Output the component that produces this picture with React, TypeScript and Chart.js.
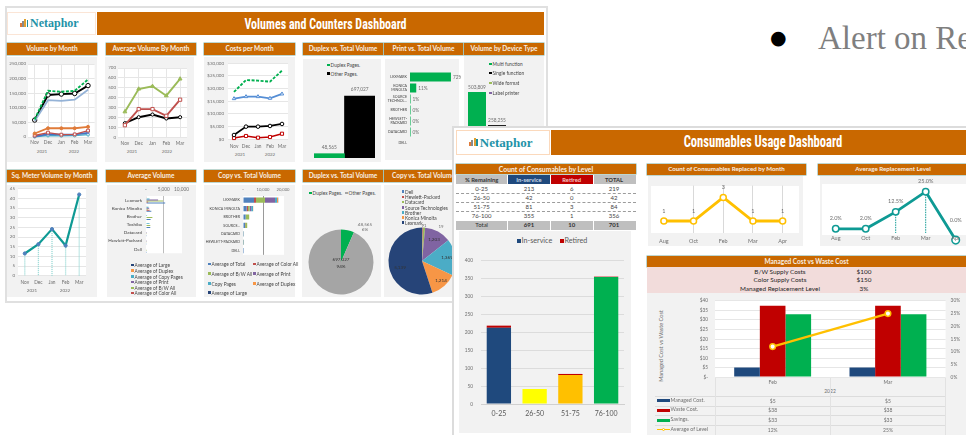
import React, { useEffect, useRef } from "react";
import { Chart, registerables } from "chart.js";
Chart.register(...registerables);

const months = ["Nov", "Dec", "Jan", "Feb", "Mar"];
const volGreen = [60000, 158000, 155000, 158000, 197000];
const volBlack = [58000, 144000, 147000, 149000, 176000];
const volLight = [55000, 126000, 124000, 128000, 162000];
const volOrange = [12000, 30000, 30000, 30000, 35000];
const volRed = [5000, 15000, 8000, 9000, 22000];
const volBlue = [2000, 10000, 8000, 9000, 14000];
const volTeal = [1000, 5000, 4000, 5000, 8000];
const avgGreen = [258, 488, 515, 420, 590];
const avgRed = [122, 285, 285, 217, 380];
const avgBlack = [142, 203, 230, 190, 203];
const costGreen = [18700, 23400, 23150, 22760, 27100];
const costBlue = [16050, 16840, 16840, 16180, 17900];
const costBlack = [1700, 5000, 5000, 5260, 6050];
const costRed = [500, 1300, 650, 900, 2200];
const duplexLabels = ["Duplex Pages.", "Other Pages."];
const duplexValues = [48565, 697027];
const duplexTexts = ["48,565", "697,027"];
const printBrands = [["LEXMARK"], ["KONICA", "MINOLTA"], ["SOURCE", "TECHNOL..."], ["BROTHER"], ["HEWLETT-", "PACKARD"], ["DATACARD"], ["DELL"]];
const printShare = [72, 11, 1, 1, 1, 1, 0];
const printTexts = ["72%", "11%", "1%", "0%", "0%", "0%", ""];
const deviceTypes = ["Multi function", "Single function", "Wide format", "Label printer"];
const deviceValues = [503809, 258255, 5000, 200];
const deviceTexts = ["503,809", "258,255", "", ""];
const sqMeter = [11.5, 16.3, 24.1, 15.6, 42];
const brands = ["Lexmark", "Konica Minolta", "Brother", "Toshiba", "Datacard", "Hewlett-Packard", "Dell"];
const brandsUpper = ["LEXMARK", "KONICA MINOLTA", "BROTHER", "SOURCE...", "DATACARD", "HEWLETT-PACKARD", "DELL"];
const avLarge = [100, 0, 0, 0, 0, 0, 0];
const avDuplex = [200, 100, 0, 0, 0, 0, 0];
const avCopy = [1000, 700, 300, 1000, 0, 0, 0];
const avPrint = [3400, 900, 0, 0, 10, 20, 0];
const avBW = [4800, 500, 1800, 1200, 50, 60, 10];
const avColor = [600, 1000, 0, 0, 0, 0, 0];
const avTotal = [5400, 1500, 1300, 1200, 50, 60, 10];
const cvTotal = [5500, 1800, 1300, 1000, 50, 60, 10];
const cvColor = [1000, 700, 0, 100, 0, 0, 0];
const cvBW = [4500, 800, 1800, 1000, 100, 200, 10];
const cvPrint = [5000, 800, 0, 0, 0, 0, 0];
const cvCopy = [1000, 900, 0, 0, 0, 0, 0];
const cvDuplex = [500, 100, 0, 0, 0, 0, 0];
const cvLarge = [100, 0, 0, 0, 0, 0, 0];
const pieBrands = ["Dell", "Hewlett-Packard", "Datacard", "Source Technologies", "Brother", "Konica Minolta", "Lexmark"];
const pieValues = [19, 30, 91, 1203, 1639, 1214, 5139];
const levelRanges = ["0-25", "26-50", "51-75", "76-100"];
const levelInService = [213, 42, 81, 355];
const levelRetired = [6, 0, 3, 1];
const levelTotal = [219, 42, 84, 356];
const levelTotals = ["691", "10", "701"];
const replMonths = ["Aug", "Oct", "Feb", "Mar", "Apr"];
const replCount = [1, 1, 3, 1, 1];
const replLevel = [2, 2, 12.5, 25, -5];
const replLevelTexts = ["2.0%", "2.0%", "12.5%", "25.0%", "0.0%"];
const costMonths = ["Feb", "Mar"];
const managedCost = [5, 5];
const wasteCost = [37.5, 37.5];
const savings = [33, 33];
const avgLevel = [12, 25];
const supplyRows = [["B/W Supply Costs", "$100"], ["Color Supply Costs", "$150"], ["Managed Replacement Level", "3%"]];
const costRows = [["Managed Cost.", "$5", "$5"], ["Waste Cost.", "$38", "$38"], ["Savings.", "$33", "$33"], ["Average of Level", "12%", "25%"]];

const F = "Lato, 'Open Sans', sans-serif";
const ORANGE = "#C96800";
const PANEL = "#F2F2F2";
const TICK = "#6f6f6f";
const GRID = "#e6e6e6";
const C = { large: "#264478", duplex: "#F79646", copy: "#4BACC6", print: "#8064A2", bw: "#9BBB59", color: "#C0504D", total: "#4F81BD" };

type R = { x: number; y: number; w: number; h: number };

function deco(o: any = {}) {
  return {
    id: "deco",
    beforeDraw(ch: any) {
      if (!o.bg) return;
      const a = ch.chartArea;
      ch.ctx.save();
      ch.ctx.fillStyle = o.bg;
      ch.ctx.fillRect(a.left, a.top, a.right - a.left, a.bottom - a.top);
      ch.ctx.restore();
    },
    beforeDatasetsDraw(ch: any) {
      if (!o.drops) return;
      const g = ch.ctx;
      const d = o.drops;
      const end = d.to !== undefined ? ch.scales.y.getPixelForValue(d.to) : ch.chartArea.bottom;
      g.save();
      g.strokeStyle = d.color;
      g.lineWidth = d.w;
      g.setLineDash(d.dash);
      ch.getDatasetMeta(d.ds).data.forEach((p: any, i: number) => {
        if (d.idx && !d.idx.includes(i)) return;
        g.beginPath();
        g.moveTo(p.x, p.y);
        g.lineTo(p.x, end);
        g.stroke();
      });
      g.restore();
    },
    afterDatasetsDraw(ch: any) {
      (o.labels || []).forEach((l: any) => {
        const g = ch.ctx;
        g.save();
        g.font = `${l.size || 5}px ${F}`;
        g.fillStyle = l.color || TICK;
        g.textAlign = l.align || "center";
        g.textBaseline = "middle";
        ch.getDatasetMeta(l.ds).data.forEach((p: any, i: number) => {
          const t = l.index !== undefined ? (i === 0 ? l.texts[l.index] : "") : l.texts[i];
          const dy = Array.isArray(l.dy) ? l.dy[i] : l.dy || 0;
          const y = l.fromBottom !== undefined ? ch.chartArea.bottom + l.fromBottom : p.y + dy;
          if (t) g.fillText(t, p.x + (l.dx || 0), y);
        });
        g.restore();
      });
    },
  };
}

function build(c: R, p: R, type: string, labels: any, datasets: any[], scales: any, extra: any = {}, dec: any = {}) {
  const left = p.x - c.x, top = p.y - c.y;
  const right = c.x + c.w - p.x - p.w, bottom = c.y + c.h - p.y - p.h;
  const topX = scales.x.position === "top";
  const hasRight = !!scales.y1;
  const s: any = {};
  Object.keys(scales).forEach((k) => {
    const v = scales[k];
    s[k] = {
      ...v,
      afterFit(sc: any) {
        if (k === "x") sc.height = topX ? top : bottom;
        else if (k === "y1") sc.width = right;
        else sc.width = left;
      },
    };
  });
  return {
    type,
    data: { labels, datasets },
    plugins: [deco(dec)],
    options: {
      animation: false,
      responsive: false,
      maintainAspectRatio: false,
      layout: { padding: { top: topX ? 0 : top, right: hasRight ? 0 : right, bottom: topX ? bottom : 0, left: 0 } },
      plugins: { legend: { display: false }, tooltip: { enabled: false } },
      scales: s,
      ...extra,
    },
  } as any;
}

const tk = (size: number, o: any = {}) => ({ font: { family: F, size }, color: TICK, autoSkip: false, maxRotation: 0, minRotation: 0, padding: 2, ...o });
const noBorder = { display: false };
const xCat = (size = 4.8, o: any = {}, grid: any = { display: false }) => ({ type: "category", offset: true, grid: { ...grid, drawTicks: false }, border: noBorder, ticks: tk(size, { padding: 3, ...o }) });
const yVal = (min: number, max: number, step: number, cb: any, size = 4.5, o: any = {}) => ({ type: "linear", min, max, grid: { color: GRID, drawTicks: false }, border: noBorder, ticks: tk(size, { stepSize: step, callback: cb, padding: 2, ...o }) });
const hideX = { type: "category", offset: true, grid: { display: false, drawTicks: false }, border: noBorder, ticks: { display: false } };
const hideY = (min: number, max: number) => ({ type: "linear", min, max, grid: { display: false, drawTicks: false }, border: noBorder, ticks: { display: false } });
const ln = (data: number[], color: string, w: number, o: any = {}) => ({ data, borderColor: color, borderWidth: w, tension: 0, clip: false, pointRadius: 0, pointBorderColor: color, pointBackgroundColor: "#fff", pointBorderWidth: 1, ...o });
const comma = (v: number) => Number(v).toLocaleString("en-US");

function Plot({ r, make }: { r: R; make: () => any }) {
  const ref = useRef<HTMLCanvasElement>(null);
  useEffect(() => {
    const ch = new Chart(ref.current as any, make());
    return () => ch.destroy();
  }, []);
  return <canvas ref={ref} width={r.w} height={r.h} style={{ position: "absolute", left: r.x, top: r.y, width: r.w, height: r.h }} />;
}

function T({ x, y, s = 5, c = TICK, a = "c", b, f, rot, sy, children }: any) {
  const tx = a === "c" ? "-50%" : a === "r" ? "-100%" : "0";
  return (
    <div style={{ position: "absolute", left: x, top: y, transform: `translate(${tx},-50%)${rot ? ` rotate(${rot}deg)` : ""}${sy ? ` scaleY(${sy})` : ""}`, font: `${b ? "bold " : ""}${s}px/1 ${f || F}`, color: c, whiteSpace: "nowrap" }}>
      {children}
    </div>
  );
}
const Box = ({ x, y, w, h, c, style }: any) => <div style={{ position: "absolute", left: x, top: y, width: w, height: h, background: c, ...style }} />;
function Head({ x, y, w, h = 12, s = 6.5, children }: any) {
  return (
    <>
      <Box x={x} y={y} w={w} h={h} c={ORANGE} style={{ boxShadow: "0 0 0 0.5px #7fae9f" }} />
      <T x={x + w / 2} y={y + h / 2} s={s} c="#f8efe4" b>{children}</T>
    </>
  );
}
function Legend({ items, s = 4.8, c = "#444", q = 2.6, gap = 3.6 }: any) {
  return items.map((it: any, i: number) => (
    <React.Fragment key={i}>
      <Box x={it.x} y={it.y - q / 2} w={q} h={q} c={it.c} />
      <T x={it.x + gap} y={it.y} s={s} a="l" c={c}>{it.t}</T>
    </React.Fragment>
  ));
}
function Logo({ x, y, s }: any) {
  const k = s / 12;
  const bars = [["#E07B39", 3.5], ["#8a8a8a", 5.5], ["#E0A030", 7.5], ["#1A8FA0", 6.5]] as any[];
  return (
    <>
      {bars.map(([col, h], i) => <Box key={i} x={x + i * 2.2 * k} y={y + (3.5 - h) * k} w={1.8 * k} h={h * k} c={col} />)}
      <T x={x + 10 * k} y={y} s={s} a="l" b c="#1F93A8" f="'Liberation Serif', serif">Netaphor</T>
    </>
  );
}

const title = "'Liberation Sans Narrow', 'Roboto Condensed', 'Liberation Sans', sans-serif";

function LeftBoard() {
  const yearCss = { s: 4.5 };
  return (
    <>
      <Box x={5} y={6} w={539} h={293} c="#fff" style={{ border: "2px solid #e0e0e0" }} />
      <Box x={7} y={12} w={89} h={23} c="#fff" style={{ border: "1px solid #FBE5D6", boxSizing: "border-box" }} />
      <Logo x={20} y={23} s={12} />
      <Box x={97} y={12} w={447} h={23} c={ORANGE} />
      <T x={325.5} y={23.5} s={12} c="#fff" b f={title} sy={1.25}>Volumes and Counters Dashboard</T>

      <Head x={7} y={43} w={90}>Volume by Month</Head>
      <Head x={106} y={43} w={90}>Average Volume By Month</Head>
      <Head x={204} y={43} w={91}>Costs per Month</Head>
      <Head x={303} y={43} w={80}>Duplex vs. Total Volume</Head>
      <Head x={384} y={43} w={79}>Print vs. Total Volume</Head>
      <Head x={464} y={43} w={80}>Volume by Device Type</Head>

      <Box x={7} y={57} w={90} h={105} c={PANEL} />
      <Box x={105} y={57} w={89} h={105} c={PANEL} />
      <Box x={204} y={57} w={91} h={105} c={PANEL} />
      <Box x={303} y={59} w={78} h={103} c={PANEL} />
      <Box x={385} y={59} w={74} h={101} c={PANEL} />
      <Box x={464} y={56} w={80} h={106} c={PANEL} />

      <Plot r={{ x: 8, y: 58, w: 94, h: 90 }} make={() => build({ x: 8, y: 58, w: 94, h: 90 }, { x: 28, y: 64, w: 66.7, h: 73 }, "line", months, [
        ln(volGreen, "#00B050", 1.9, { borderDash: [3, 1.5] }),
        ln(volLight, "#95B3D7", 1.8),
        ln(volOrange, "#E07B39", 1.8, { pointRadius: 1.5, pointBackgroundColor: "#E07B39" }),
        ln(volRed, "#C0504D", 1.4, { pointRadius: 2, pointStyle: "rect" }),
        ln(volBlue, "#4472C4", 1.9, { pointRadius: 1 }),
        ln(volTeal, "#4BACC6", 1.4, { pointRadius: 1.4 }),
        ln(volBlack, "#000", 1.9, { pointRadius: 2.2 }),
      ], { x: xCat(4.8, {}, { display: true, color: GRID }), y: yVal(0, 250000, 50000, comma) }, {}, { bg: "#fff" })} />
      <T x={42} y={152} {...yearCss}>2021</T><T x={74} y={152} {...yearCss}>2022</T>

      <Plot r={{ x: 106, y: 60, w: 88, h: 88 }} make={() => build({ x: 106, y: 60, w: 88, h: 88 }, { x: 118, y: 68, w: 69, h: 69.3 }, "line", months, [
        ln(avgGreen, "#9BBB59", 1.9, { pointRadius: 2.2, pointStyle: "triangle", pointBackgroundColor: "#9BBB59" }),
        ln(avgRed, "#C0504D", 1.9, { pointRadius: 2.3, pointStyle: "rect" }),
        ln(avgBlack, "#000", 1.9, { pointRadius: 1.6 }),
      ], { x: xCat(4.8, {}, { display: true, color: GRID }), y: yVal(0, 700, 100, comma) }, {}, { bg: "#fff" })} />
      <T x={132} y={152} {...yearCss}>2021</T><T x={167} y={152} {...yearCss}>2022</T>

      <Plot r={{ x: 205, y: 56, w: 88, h: 95 }} make={() => build({ x: 205, y: 56, w: 88, h: 95 }, { x: 228, y: 63.3, w: 60, h: 76 }, "line", months, [
        ln(costGreen, "#00B050", 1.9, { borderDash: [3, 1.5] }),
        ln(costBlue, "#558ED5", 1.8, { pointRadius: 2, pointStyle: "triangle" }),
        ln(costBlack, "#000", 1.8, { pointRadius: 1.8 }),
        ln(costRed, "#C00000", 1.5, { pointRadius: 2.2, pointStyle: "rect" }),
      ], { x: xCat(4.8, { padding: 4 }), y: yVal(0, 30000, 5000, (v: number) => "$" + comma(v), 4.5, { padding: 4 }) }, {}, { bg: "#fff" })} />
      <T x={240} y={155} {...yearCss}>2021</T><T x={270} y={155} {...yearCss}>2022</T>

      <Legend items={[{ x: 327, y: 65, c: "#00B050", t: duplexLabels[0] }, { x: 327, y: 73.5, c: "#000", t: duplexLabels[1] }]} />
      <Plot r={{ x: 304, y: 80, w: 76, h: 82 }} make={() => build({ x: 304, y: 80, w: 76, h: 82 }, { x: 314, y: 87, w: 61, h: 71 }, "bar", ["Volume"], [
        { data: [duplexValues[0]], backgroundColor: "#00B050", barPercentage: 1, categoryPercentage: 1 },
        { data: [duplexValues[1]], backgroundColor: "#000", barPercentage: 1, categoryPercentage: 1 },
      ], { x: hideX, y: hideY(0, 800000) }, {}, { labels: [{ ds: 0, texts: duplexTexts, index: 0, dy: -6, size: 4.8 }, { ds: 1, texts: duplexTexts, index: 1, dy: -7, size: 4.8 }] })} />

      <Plot r={{ x: 386, y: 65, w: 75, h: 90 }} make={() => build({ x: 386, y: 65, w: 75, h: 90 }, { x: 410, y: 71.5, w: 45.5, h: 77 }, "bar", printBrands, [
        { data: printShare, backgroundColor: "#00B050", barPercentage: 0.82, categoryPercentage: 1 },
      ], { y: { type: "category", grid: { display: false, drawTicks: false }, border: { display: false }, ticks: tk(3.6, { color: "#404040", padding: 3 }) }, x: hideY(0, 80) }, { indexAxis: "y" }, { labels: [{ ds: 0, texts: printTexts, dx: 2, align: "left", size: 4.8 }] })} />

      <Plot r={{ x: 464, y: 70, w: 84, h: 95 }} make={() => build({ x: 464, y: 70, w: 84, h: 95 }, { x: 467, y: 79, w: 80, h: 81 }, "bar", deviceTypes, [
        { data: deviceValues, backgroundColor: ["#00B050", "#000", "#9BBB59", "#8064A2"], barPercentage: 0.9, categoryPercentage: 1 },
      ], { x: hideX, y: hideY(0, 600000) }, {}, { labels: [{ ds: 0, texts: deviceTexts, dy: -5, size: 4.8 }] })} />
      <Legend items={deviceTypes.map((t, i) => ({ x: 489, y: [64, 73, 83, 93][i], c: ["#00B050", "#000", "#9BBB59", "#8064A2"][i], t }))} />

      <Head x={7} y={170} w={90}>Sq. Meter Volume by Month</Head>
      <Head x={106} y={170} w={90}>Average Volume</Head>
      <Head x={204} y={170} w={91}>Copy vs. Total Volume</Head>
      <Head x={303} y={170} w={80}>Duplex vs. Total Volume</Head>
      <Head x={384} y={170} w={79}>Copy vs. Total Volume</Head>

      <Box x={7} y={185} w={90} h={112} c={PANEL} />
      <Box x={107} y={185} w={89} h={112} c={PANEL} />
      <Box x={204} y={185} w={91} h={112} c={PANEL} />
      <Box x={302} y={185} w={79} h={112} c={PANEL} />
      <Box x={384} y={185} w={76} h={112} c={PANEL} />

      <Plot r={{ x: 8, y: 183, w: 84, h: 105 }} make={() => build({ x: 8, y: 183, w: 84, h: 105 }, { x: 18, y: 188, w: 68, h: 87.7 }, "line", months, [
        ln(sqMeter, "#0E9A94", 2.2, { pointRadius: 1.6, pointBackgroundColor: "#4F81BD", pointBorderColor: "#4F81BD" }),
      ], { x: xCat(4.8, { padding: 4 }), y: yVal(0, 45, 5, comma, 4.5, { padding: 3 }) }, {}, { bg: "#fff", drops: { ds: 0, color: "#8fd6d2", dash: [1, 1], w: 1.3 } })} />
      <T x={32} y={291} {...yearCss}>2021</T><T x={65} y={291} {...yearCss}>2022</T>

      <Plot r={{ x: 108, y: 186, w: 85, h: 74 }} make={() => build({ x: 108, y: 186, w: 85, h: 74 }, { x: 146, y: 196, w: 39, h: 60.7 }, "bar", brands, [
        { data: avLarge, backgroundColor: C.large },
        { data: avDuplex, backgroundColor: C.duplex },
        { data: avCopy, backgroundColor: C.copy },
        { data: avPrint, backgroundColor: C.print },
        { data: avBW, backgroundColor: C.bw },
        { data: avColor, backgroundColor: C.color },
        { data: avTotal, backgroundColor: C.total },
      ].map((d) => ({ ...d, barPercentage: 1, categoryPercentage: 0.85 })), {
        x: { type: "linear", position: "top", min: 0, max: 10000, grid: { color: (k: any) => (k.index === 1 ? "#bdbdbd" : "#fff"), drawTicks: false }, border: noBorder, ticks: tk(4.8, { stepSize: 5000, padding: 4, callback: (v: number) => (v === 0 ? "-" : comma(v)) }) },
        y: { type: "category", grid: { display: false, drawTicks: false }, border: noBorder, ticks: tk(4.6, { color: "#404040", padding: 4 }) },
      }, { indexAxis: "y" }, { bg: "#fff" })} />
      <Legend items={["Average of Large", "Average of Duplex", "Average of Copy Pages", "Average of Print", "Average of B/W All", "Average of Color All"].map((t, i) => ({ x: 131, y: [265, 270.7, 276.7, 282, 288, 293][i], c: [C.large, C.duplex, C.copy, C.print, C.bw, C.color][i], t }))} />

      <Plot r={{ x: 206, y: 186, w: 88, h: 74 }} make={() => build({ x: 206, y: 186, w: 88, h: 74 }, { x: 243, y: 196, w: 40, h: 60.7 }, "bar", brandsUpper, [
        { data: cvTotal, backgroundColor: C.total },
        { data: cvColor, backgroundColor: C.color },
        { data: cvBW, backgroundColor: C.bw },
        { data: cvPrint, backgroundColor: C.print },
        { data: cvCopy, backgroundColor: C.copy },
        { data: cvDuplex, backgroundColor: C.duplex },
        { data: cvLarge, backgroundColor: C.large },
      ].map((d) => ({ ...d, barPercentage: 1, categoryPercentage: 0.62 })), {
        x: { type: "linear", position: "top", stacked: true, min: 0, max: 20000, grid: { color: (k: any) => (k.index === 1 ? "#9a9a9a" : "#fff"), drawTicks: false }, border: noBorder, ticks: tk(4.2, { stepSize: 10000, padding: 4, callback: (v: number) => (v === 0 ? "-" : comma(v)) }) },
        y: { type: "category", stacked: true, grid: { display: false, drawTicks: false }, border: noBorder, ticks: tk(3.6, { color: "#404040", padding: 3 }) },
      }, { indexAxis: "y" }, { bg: "#fff" })} />
      <Legend items={[
        { x: 208, y: 264, c: C.total, t: "Average of Total" }, { x: 253, y: 264, c: C.color, t: "Average of Color All" },
        { x: 208, y: 273.7, c: C.bw, t: "Average of B/W All" }, { x: 253, y: 273.7, c: C.print, t: "Average of Print" },
        { x: 208, y: 283.7, c: C.copy, t: "Copy Pages" }, { x: 253, y: 283.7, c: C.duplex, t: "Average of Duplex" },
        { x: 208, y: 292.7, c: C.large, t: "Average of Large" },
      ]} />

      <Legend items={[{ x: 309, y: 193, c: "#00B050", t: duplexLabels[0] }, { x: 345, y: 193, c: "#A5A5A5", t: duplexLabels[1] }]} />
      <Plot r={{ x: 286, y: 206.7, w: 110, h: 110 }} make={() => ({
        type: "pie", data: { labels: duplexLabels, datasets: [{ data: duplexValues, backgroundColor: ["#00B050", "#A5A5A5"], borderWidth: 0 }] },
        options: { animation: false, responsive: false, radius: 32.5, plugins: { legend: { display: false }, tooltip: { enabled: false } } },
      } as any)} />
      <T x={365} y={224} s={4.6}>48,565</T><T x={365} y={229} s={4.6}>6%</T>
      <T x={341} y={259} s={4.6} c="#333">697,027</T><T x={341} y={266} s={4.6} c="#333">94%</T>

      <Plot r={{ x: 367, y: 206, w: 110, h: 110 }} make={() => ({
        type: "pie", data: { labels: pieBrands, datasets: [{ data: pieValues, backgroundColor: [C.total, C.color, C.bw, C.print, C.copy, C.duplex, C.large], borderWidth: 0 }] },
        options: { animation: false, responsive: false, radius: 33.5, plugins: { legend: { display: false }, tooltip: { enabled: false } } },
      } as any)} />
      <Legend items={pieBrands.map((t, i) => ({ x: 401.5, y: [191.7, 197, 202, 207.7, 212.7, 217.7, 222.7][i], c: [C.total, C.color, C.bw, C.print, C.copy, C.duplex, C.large][i], t }))} />
      <T x={424} y={226} s={4.4}>91</T><T x={441} y={227} s={4.4}>19</T>
      <T x={434} y={239} s={4.6} c="#333">1,203</T><T x={447} y={257} s={4.6} c="#333">1,369</T>
      <T x={441} y={280} s={4.6} c="#333">1,214</T><T x={400} y={267} s={4.6} c="#333">5,139</T>
    </>
  );
}

function LevelTable() {
  const cols = [481.7, 529, 571.7, 614];
  const heads = [{ x: 456, w: 51, c: "#BFBFBF", t: "% Remaining", f: "#333" }, { x: 508, w: 42, c: "#1F497D", t: "In-service", f: "#cfd9e6" }, { x: 551, w: 42, c: "#C00000", t: "Retired", f: "#f3c9c9" }, { x: 594, w: 42, c: "#BFBFBF", t: "TOTAL", f: "#333" }];
  const rowY = [189, 198, 207, 216];
  return (
    <>
      <Head x={456} y={163.5} w={180} h={10.5} s={6.8}>Count of Consumables by Level</Head>
      {heads.map((h, i) => (
        <React.Fragment key={i}>
          <Box x={h.x} y={175} w={h.w} h={9.3} c={h.c} />
          <T x={cols[i]} y={180} s={5.8} c={h.f} b>{h.t}</T>
        </React.Fragment>
      ))}
      {levelRanges.map((r, i) => (
        <React.Fragment key={r}>
          <T x={cols[0]} y={rowY[i]} s={6} c="#444">{r}</T>
          <T x={cols[1]} y={rowY[i]} s={6} c="#444">{levelInService[i]}</T>
          <T x={cols[2]} y={rowY[i]} s={6} c="#444">{levelRetired[i]}</T>
          <T x={cols[3]} y={rowY[i]} s={6} c="#444">{levelTotal[i]}</T>
          {i < 3 && <Box x={456} y={rowY[i] + 4.3} w={180} h={0} style={{ borderTop: "1px dashed #9c9c9c" }} />}
        </React.Fragment>
      ))}
      {heads.map((h, i) => <Box key={i} x={h.x} y={221} w={h.w} h={8.5} c="#BFBFBF" />)}
      <T x={cols[0]} y={225} s={6} c="#333">Total</T>
      {levelTotals.map((t, i) => <T key={t} x={cols[i + 1]} y={225} s={6} c="#333" b>{t}</T>)}

      <Box x={459} y={231} w={172} h={202} c={PANEL} />
      <Legend s={7.2} c="#595959" q={4} gap={5} items={[{ x: 516.5, y: 241, c: "#1F497D", t: "In-service" }, { x: 559.5, y: 241, c: "#C00000", t: "Retired" }]} />
      <Plot r={{ x: 459, y: 250, w: 172, h: 175 }} make={() => build({ x: 459, y: 250, w: 172, h: 175 }, { x: 481, y: 256.7, w: 143, h: 147.3 }, "bar", levelRanges, [
        { data: levelInService, backgroundColor: ["#1F497D", "#FFFF00", "#FFC000", "#00B050"], stack: "a", barPercentage: 0.68, categoryPercentage: 1 },
        { data: levelRetired, backgroundColor: "#C00000", stack: "a", barPercentage: 0.68, categoryPercentage: 1 },
      ], {
        x: { type: "category", stacked: true, offset: true, grid: { display: false, drawTicks: false }, border: { display: true, color: "#d0d0d0" }, ticks: tk(7, { padding: 6, color: "#595959" }) },
        y: { type: "linear", stacked: true, min: 0, max: 400, grid: { color: "#dcdcdc", drawTicks: false }, border: noBorder, ticks: tk(4.8, { stepSize: 50, padding: 8 }) },
      })} />
    </>
  );
}

function ReplacementCharts() {
  return (
    <>
      <Head x={647} y={163.5} w={159} h={11.5} s={6.2}>Count of Consumables Replaced by Month</Head>
      <Box x={648} y={176} w={155} h={70} c={PANEL} />
      <Box x={651} y={186} w={148} h={47} c="#fff" />
      <Plot r={{ x: 643, y: 178, w: 160, h: 68 }} make={() => build({ x: 643, y: 178, w: 160, h: 68 }, { x: 649, y: 185.6, w: 150, h: 47.2 }, "line", replMonths, [
        ln(replCount, "#FFC000", 2.8, { pointRadius: 3, pointBorderWidth: 1.5 }),
      ], {
        x: xCat(5.5, { padding: 5 }, { display: true, color: (k: any) => (k.index === 0 || k.index === 5 ? "transparent" : "#d9d9d9") }),
        y: hideY(0, 4),
      }, {}, { labels: [{ ds: 0, texts: replCount.map(String), dy: -10, size: 5.5 }] })} />

      <Head x={818} y={163.5} w={150} h={11.5} s={6.2}>Average Replacement Level</Head>
      <Box x={820} y={176} w={148} h={70} c={PANEL} />
      <Box x={822} y={184} w={146} h={51} c="#fff" />
      <Plot r={{ x: 815, y: 178, w: 165, h: 72 }} make={() => build({ x: 815, y: 178, w: 165, h: 72 }, { x: 820.7, y: 184, w: 150, h: 63 }, "line", replMonths, [
        ln(replLevel, "#0E9A94", 2.8, { pointRadius: [3.2, 3.2, 3.2, 3.2, 3.8], pointBorderWidth: 1.5 }),
      ], {
        x: hideX,
        y: hideY(-7.74, 29.76),
      }, {}, {
        drops: { ds: 0, color: "#0E9A94", dash: [1.5, 1], w: 1, idx: [2, 3], to: -0.6 },
        labels: [
          { ds: 0, texts: replLevelTexts, dy: [-11, -11, -11, -10, -19.5], size: 5.5 },
          { ds: 0, texts: replMonths, fromBottom: -6, size: 5.5 },
        ],
      })} />
    </>
  );
}

function CostChart() {
  const rowY = [400.7, 410, 420, 429.7];
  const keys = ["#1F497D", "#C00000", "#00B050", "#FFC000"];
  return (
    <>
      <Head x={647} y={256} w={319} h={11} s={6.5}>Managed Cost vs Waste Cost</Head>
      <Box x={647} y={267} w={319} h={26} c="#F2DCDB" />
      {supplyRows.map((r, i) => (
        <React.Fragment key={r[0]}>
          <T x={780} y={271.7 + i * 8.7} s={6.4} c="#262626">{r[0]}</T>
          <T x={864} y={271.7 + i * 8.7} s={6.4} c="#262626">{r[1]}</T>
        </React.Fragment>
      ))}
      <Box x={647} y={293} w={319} h={142} c={PANEL} />
      <T x={661} y={346} s={5.6} rot={-90}>Managed Cost vs Waste Cost</T>
      <Plot r={{ x: 670, y: 291, w: 296, h: 96 }} make={() => build({ x: 670, y: 291, w: 296, h: 96 }, { x: 715, y: 296.3, w: 230.6, h: 81 }, "bar", costMonths, [
        { data: managedCost, backgroundColor: "#1F497D", order: 1, barPercentage: 1, categoryPercentage: 0.667 },
        { data: wasteCost, backgroundColor: "#C00000", order: 1, barPercentage: 1, categoryPercentage: 0.667 },
        { data: savings, backgroundColor: "#00B050", order: 1, barPercentage: 1, categoryPercentage: 0.667 },
        { ...ln(avgLevel, "#FFC000", 2.2, { pointRadius: 2.8, pointBorderWidth: 1.5 }), type: "line", yAxisID: "y1", order: 0 },
      ], {
        x: xCat(5, { padding: 2.5 }),
        y: yVal(0, 40, 5, (v: number) => (v === 0 ? "$-" : "$" + v), 4.8, { padding: 7 }),
        y1: { type: "linear", position: "right", min: 0, max: 30, grid: { display: false, drawTicks: false }, border: noBorder, ticks: tk(4.8, { stepSize: 5, padding: 5, callback: (v: number) => v + "%" }) },
      }, {}, { bg: "#fff" })} />
      <T x={830} y={391} s={5}>2022</T>
      {[396, 405.5, 415, 425].map((y) => <Box key={y} x={655} y={y} w={290} h={0.6} c="#dcdcdc" />)}
      {[715, 830, 945].map((x) => <Box key={x} x={x} y={378} w={0.6} h={57} c="#e2e2e2" />)}
      {costRows.map((r, i) => (
        <React.Fragment key={r[0]}>
          <Box x={657} y={rowY[i] - (i === 3 ? 0.75 : 1.5)} w={13} h={i === 3 ? 1.5 : 3} c={keys[i]} />
          {i === 3 && <Box x={661.5} y={rowY[i] - 1.8} w={3.6} h={3.6} c="#fff" style={{ borderRadius: "50%", border: "1px solid #FFC000", boxSizing: "border-box" }} />}
          <T x={670.5} y={rowY[i]} s={5.2} a="l">{r[0]}</T>
          <T x={772.7} y={rowY[i]} s={5}>{r[1]}</T>
          <T x={888} y={rowY[i]} s={5}>{r[2]}</T>
        </React.Fragment>
      ))}
    </>
  );
}

function Card() {
  return (
    <>
      <Box x={452} y={126} w={520} h={320} c="#fff" style={{ border: "2px solid #dcdcdc" }} />
      <Box x={456} y={130} w={94} h={25} c="#fff" style={{ border: "1px solid #FBD9BC", boxSizing: "border-box" }} />
      <Logo x={469} y={142} s={13} />
      <Box x={551} y={130} w={415} h={25} c={ORANGE} />
      <T x={763} y={142} s={12.6} c="#fff" b f={title} sy={1.25}>Consumables Usage Dashboard</T>
      <LevelTable />
      <ReplacementCharts />
      <CostChart />
    </>
  );
}

export default function App() {
  return (
    <div style={{ position: "fixed", left: 0, top: 0, width: 966, height: 435, background: "#fff", overflow: "hidden", filter: "blur(0.55px)" }}>
      <LeftBoard />
      <T x={778.3} y={37} s={19} c="#000" f="'DejaVu Sans', sans-serif">●</T>
      <T x={818} y={38.2} s={33} c="#7f7f7f" a="l" f="'Liberation Serif', serif">Alert on Re</T>
      <Card />
    </div>
  );
}
